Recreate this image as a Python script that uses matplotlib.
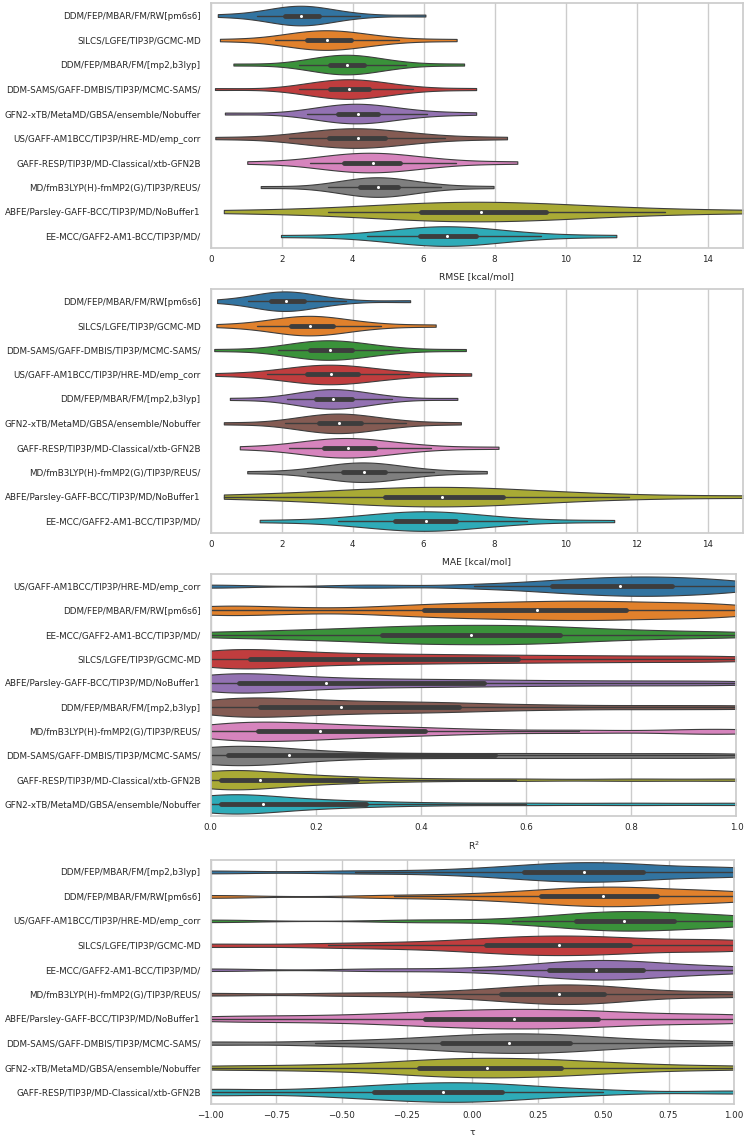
import numpy as np
import pandas as pd
import matplotlib
matplotlib.use("Agg")
import matplotlib.pyplot as plt
import seaborn as sns

# Datos: muestras por metodo (leidas a ojo de la figura de referencia)

rmse_labels = [
    "DDM/FEP/MBAR/FM/RW[pm6s6]",
    "SILCS/LGFE/TIP3P/GCMC-MD",
    "DDM/FEP/MBAR/FM/[mp2,b3lyp]",
    "DDM-SAMS/GAFF-DMBIS/TIP3P/MCMC-SAMS/",
    "GFN2-xTB/MetaMD/GBSA/ensemble/Nobuffer",
    "US/GAFF-AM1BCC/TIP3P/HRE-MD/emp_corr",
    "GAFF-RESP/TIP3P/MD-Classical/xtb-GFN2B",
    "MD/fmB3LYP(H)-fmMP2(G)/TIP3P/REUS/",
    "ABFE/Parsley-GAFF-BCC/TIP3P/MD/NoBuffer1",
    "EE-MCC/GAFF2-AM1-BCC/TIP3P/MD/",
]
rmse_values = [
    [0.2, 1.3, 1.7, 1.95, 2.1, 2.22, 2.34, 2.45, 2.55, 2.66, 2.78, 2.9, 3.05, 3.25, 3.5, 4.2, 6.05],
    [0.26, 1.8, 2.25, 2.5, 2.71, 2.86, 3.0, 3.15, 3.29, 3.45, 3.62, 3.78, 3.94, 4.2, 4.6, 5.3, 6.93],
    [0.64, 2.5, 2.9, 3.15, 3.37, 3.49, 3.61, 3.73, 3.84, 3.96, 4.08, 4.2, 4.33, 4.55, 4.85, 5.5, 7.14],
    [0.12, 2.5, 2.9, 3.15, 3.35, 3.49, 3.63, 3.77, 3.91, 4.05, 4.19, 4.33, 4.46, 4.7, 5.05, 5.7, 7.48],
    [0.40, 2.7, 3.1, 3.38, 3.59, 3.73, 3.87, 4.0, 4.14, 4.28, 4.43, 4.58, 4.72, 5.0, 5.4, 6.1, 7.48],
    [0.13, 2.2, 2.8, 3.1, 3.33, 3.53, 3.74, 3.94, 4.14, 4.33, 4.52, 4.71, 4.90, 5.25, 5.75, 6.6, 8.35],
    [1.03, 2.8, 3.25, 3.55, 3.75, 3.95, 4.15, 4.36, 4.56, 4.76, 4.95, 5.15, 5.34, 5.65, 6.1, 6.9, 8.64],
    [1.41, 3.3, 3.75, 4.0, 4.21, 4.34, 4.47, 4.6, 4.72, 4.85, 4.99, 5.13, 5.27, 5.5, 5.85, 6.5, 7.97],
    [0.37, 3.3, 4.6, 5.4, 5.94, 6.36, 6.78, 7.2, 7.62, 8.08, 8.54, 9.0, 9.46, 10.3, 11.3, 12.8, 15.8],
    [1.98, 4.4, 5.05, 5.5, 5.89, 6.08, 6.27, 6.46, 6.65, 6.86, 7.07, 7.27, 7.48, 7.85, 8.4, 9.3, 11.43],
]

mae_labels = [
    "DDM/FEP/MBAR/FM/RW[pm6s6]",
    "SILCS/LGFE/TIP3P/GCMC-MD",
    "DDM-SAMS/GAFF-DMBIS/TIP3P/MCMC-SAMS/",
    "US/GAFF-AM1BCC/TIP3P/HRE-MD/emp_corr",
    "DDM/FEP/MBAR/FM/[mp2,b3lyp]",
    "GFN2-xTB/MetaMD/GBSA/ensemble/Nobuffer",
    "GAFF-RESP/TIP3P/MD-Classical/xtb-GFN2B",
    "MD/fmB3LYP(H)-fmMP2(G)/TIP3P/REUS/",
    "ABFE/Parsley-GAFF-BCC/TIP3P/MD/NoBuffer1",
    "EE-MCC/GAFF2-AM1-BCC/TIP3P/MD/",
]
mae_values = [
    [0.18, 1.05, 1.35, 1.55, 1.70, 1.81, 1.92, 2.02, 2.13, 2.25, 2.37, 2.5, 2.62, 2.85, 3.15, 3.8, 5.62],
    [0.16, 1.3, 1.75, 2.05, 2.26, 2.4, 2.53, 2.67, 2.81, 2.97, 3.13, 3.28, 3.44, 3.7, 4.1, 4.8, 6.34],
    [0.10, 1.9, 2.35, 2.6, 2.79, 2.93, 3.07, 3.21, 3.35, 3.5, 3.66, 3.81, 3.97, 4.25, 4.65, 5.3, 7.19],
    [0.13, 1.6, 2.15, 2.48, 2.72, 2.88, 3.05, 3.21, 3.38, 3.57, 3.76, 3.95, 4.14, 4.45, 4.9, 5.6, 7.34],
    [0.54, 2.15, 2.55, 2.78, 2.96, 3.08, 3.21, 3.33, 3.46, 3.59, 3.73, 3.86, 3.99, 4.22, 4.55, 5.1, 6.95],
    [0.37, 2.1, 2.55, 2.84, 3.05, 3.19, 3.33, 3.48, 3.62, 3.77, 3.92, 4.08, 4.23, 4.5, 4.9, 5.5, 7.05],
    [0.82, 2.2, 2.7, 2.98, 3.19, 3.36, 3.53, 3.7, 3.87, 4.06, 4.25, 4.44, 4.63, 4.95, 5.4, 6.2, 8.11],
    [1.03, 2.7, 3.2, 3.52, 3.74, 3.88, 4.03, 4.17, 4.31, 4.46, 4.62, 4.77, 4.92, 5.2, 5.6, 6.3, 7.78],
    [0.37, 2.6, 3.7, 4.4, 4.92, 5.32, 5.72, 6.12, 6.53, 6.96, 7.39, 7.82, 8.25, 9.0, 10.0, 11.8, 15.5],
    [1.38, 3.6, 4.35, 4.82, 5.18, 5.4, 5.62, 5.84, 6.06, 6.27, 6.48, 6.69, 6.90, 7.3, 7.9, 8.9, 11.37],
]

r2_labels = [
    "US/GAFF-AM1BCC/TIP3P/HRE-MD/emp_corr",
    "DDM/FEP/MBAR/FM/RW[pm6s6]",
    "EE-MCC/GAFF2-AM1-BCC/TIP3P/MD/",
    "SILCS/LGFE/TIP3P/GCMC-MD",
    "ABFE/Parsley-GAFF-BCC/TIP3P/MD/NoBuffer1",
    "DDM/FEP/MBAR/FM/[mp2,b3lyp]",
    "MD/fmB3LYP(H)-fmMP2(G)/TIP3P/REUS/",
    "DDM-SAMS/GAFF-DMBIS/TIP3P/MCMC-SAMS/",
    "GAFF-RESP/TIP3P/MD-Classical/xtb-GFN2B",
    "GFN2-xTB/MetaMD/GBSA/ensemble/Nobuffer",
]
r2_values = [
    [0.0, 0.3, 0.5, 0.6, 0.649, 0.685, 0.72, 0.75, 0.779, 0.805, 0.83, 0.855, 0.877, 0.91, 0.95, 0.985, 1.0],
    [0.0, 0.03, 0.15, 0.32, 0.406, 0.46, 0.52, 0.57, 0.621, 0.665, 0.71, 0.75, 0.789, 0.85, 0.91, 0.96, 1.0],
    [0.0, 0.12, 0.2, 0.27, 0.325, 0.37, 0.415, 0.455, 0.496, 0.54, 0.58, 0.62, 0.664, 0.72, 0.79, 0.88, 1.0],
    [0.0, 0.01, 0.025, 0.05, 0.075, 0.11, 0.16, 0.22, 0.281, 0.35, 0.42, 0.5, 0.584, 0.68, 0.78, 0.9, 1.0],
    [0.0, 0.008, 0.02, 0.035, 0.053, 0.085, 0.125, 0.17, 0.22, 0.29, 0.36, 0.44, 0.519, 0.62, 0.74, 0.87, 1.0],
    [0.0, 0.015, 0.035, 0.06, 0.093, 0.125, 0.16, 0.2, 0.247, 0.3, 0.36, 0.415, 0.472, 0.56, 0.68, 0.84, 1.0],
    [0.0, 0.015, 0.035, 0.06, 0.09, 0.115, 0.145, 0.175, 0.208, 0.25, 0.3, 0.355, 0.408, 0.52, 0.7, 0.92, 1.0],
    [0.0, 0.005, 0.012, 0.022, 0.032, 0.06, 0.09, 0.12, 0.148, 0.22, 0.31, 0.42, 0.54, 0.65, 0.77, 0.9, 1.0],
    [0.0, 0.004, 0.009, 0.014, 0.019, 0.035, 0.052, 0.072, 0.093, 0.13, 0.18, 0.23, 0.279, 0.4, 0.58, 0.8, 1.0],
    [0.0, 0.004, 0.009, 0.014, 0.019, 0.037, 0.056, 0.078, 0.10, 0.14, 0.19, 0.24, 0.295, 0.42, 0.6, 0.8, 1.0],
]

tau_labels = [
    "DDM/FEP/MBAR/FM/[mp2,b3lyp]",
    "DDM/FEP/MBAR/FM/RW[pm6s6]",
    "US/GAFF-AM1BCC/TIP3P/HRE-MD/emp_corr",
    "SILCS/LGFE/TIP3P/GCMC-MD",
    "EE-MCC/GAFF2-AM1-BCC/TIP3P/MD/",
    "MD/fmB3LYP(H)-fmMP2(G)/TIP3P/REUS/",
    "ABFE/Parsley-GAFF-BCC/TIP3P/MD/NoBuffer1",
    "DDM-SAMS/GAFF-DMBIS/TIP3P/MCMC-SAMS/",
    "GFN2-xTB/MetaMD/GBSA/ensemble/Nobuffer",
    "GAFF-RESP/TIP3P/MD-Classical/xtb-GFN2B",
]
tau_values = [
    [-1.0, -0.45, -0.1, 0.08, 0.198, 0.26, 0.32, 0.375, 0.428, 0.48, 0.54, 0.6, 0.652, 0.71, 0.96, 1.0, 1.0],
    [-1.0, -0.3, 0.0, 0.15, 0.261, 0.33, 0.4, 0.45, 0.501, 0.55, 0.6, 0.65, 0.705, 0.8, 0.95, 1.0, 1.0],
    [-1.0, -0.2, 0.15, 0.3, 0.398, 0.445, 0.49, 0.535, 0.579, 0.625, 0.675, 0.72, 0.769, 0.84, 1.0, 1.0, 1.0],
    [-1.0, -0.55, -0.3, -0.1, 0.051, 0.12, 0.19, 0.26, 0.332, 0.4, 0.47, 0.54, 0.604, 0.75, 0.95, 1.0, 1.0],
    [-1.0, -0.35, 0.0, 0.18, 0.294, 0.34, 0.385, 0.43, 0.472, 0.515, 0.56, 0.61, 0.652, 0.72, 0.8, 1.0, 1.0],
    [-1.0, -0.5, -0.2, -0.02, 0.11, 0.17, 0.23, 0.28, 0.332, 0.375, 0.42, 0.46, 0.505, 0.58, 0.68, 0.95, 1.0],
    [-1.0, -0.75, -0.5, -0.32, -0.18, -0.09, 0.0, 0.08, 0.158, 0.24, 0.32, 0.4, 0.479, 0.6, 0.75, 1.0, 1.0],
    [-1.0, -0.6, -0.38, -0.23, -0.115, -0.05, 0.015, 0.08, 0.14, 0.2, 0.26, 0.32, 0.372, 0.46, 0.57, 0.75, 1.0],
    [-1.0, -0.7, -0.48, -0.32, -0.205, -0.14, -0.07, -0.005, 0.057, 0.13, 0.2, 0.27, 0.338, 0.43, 0.55, 0.72, 1.0],
    [-1.0, -1.0, -0.65, -0.5, -0.374, -0.31, -0.24, -0.175, -0.111, -0.05, 0.0, 0.06, 0.115, 0.2, 0.32, 0.5, 1.0],
]

# Estilo

sns.set_theme(style="whitegrid", rc={
    "font.size": 6.3,
    "axes.labelsize": 6.6,
    "xtick.labelsize": 6.3,
    "ytick.labelsize": 6.3,
    "xtick.major.size": 0,
    "ytick.major.size": 0,
    "xtick.major.pad": 5,
    "ytick.major.pad": 7.2,
    "axes.labelpad": 5.5,
})
plt.rcParams["font.family"] = ["DejaVu Sans"]

fig = plt.figure(figsize=(7.49, 11.39), dpi=100)

paneles = [
    (rmse_labels, rmse_values, "RMSE [kcal/mol]", (0, 15), np.arange(0, 15, 2), 1.0, "{:.0f}",
     [0.2813, 0.782, 0.7107, 0.2151]),
    (mae_labels, mae_values, "MAE [kcal/mol]", (0, 15), np.arange(0, 15, 2), 1.0, "{:.0f}",
     [0.2813, 0.5318, 0.7107, 0.2145]),
    (r2_labels, r2_values, "R$^2$", (0, 1), np.arange(0, 1.01, 0.2), 0.5, "{:.1f}",
     [0.2813, 0.2836, 0.702, 0.2124]),
    (tau_labels, tau_values, "τ", (-1, 1), np.arange(-1, 1.01, 0.25), 0.6, "{:.2f}",
     [0.2813, 0.0305, 0.6987, 0.2147]),
]

for labels, values, xlabel, xlim, ticks, bw, fmt, rect in paneles:
    ax = fig.add_axes(rect)
    df = pd.DataFrame({
        "metodo": np.repeat(labels, [len(v) for v in values]),
        "valor": np.concatenate(values),
    })
    sns.violinplot(data=df, x="valor", y="metodo", hue="metodo", order=labels,
                   hue_order=labels, palette="tab10", legend=False, orient="h",
                   density_norm="width", cut=0, inner="box", bw_adjust=bw,
                   linewidth=0.8,
                   inner_kws={"box_width": 3.5, "whis_width": 1.0, "marker": "."},
                   ax=ax)
    ax.set_xlim(*xlim)
    ax.set_xticks(ticks)
    ax.set_xticklabels([fmt.format(t).replace("-", "\u2212") for t in ticks])
    ax.set_xlabel(xlabel)
    ax.set_ylabel("")
    ax.yaxis.grid(False)

fig.savefig("out.png", dpi=100)
